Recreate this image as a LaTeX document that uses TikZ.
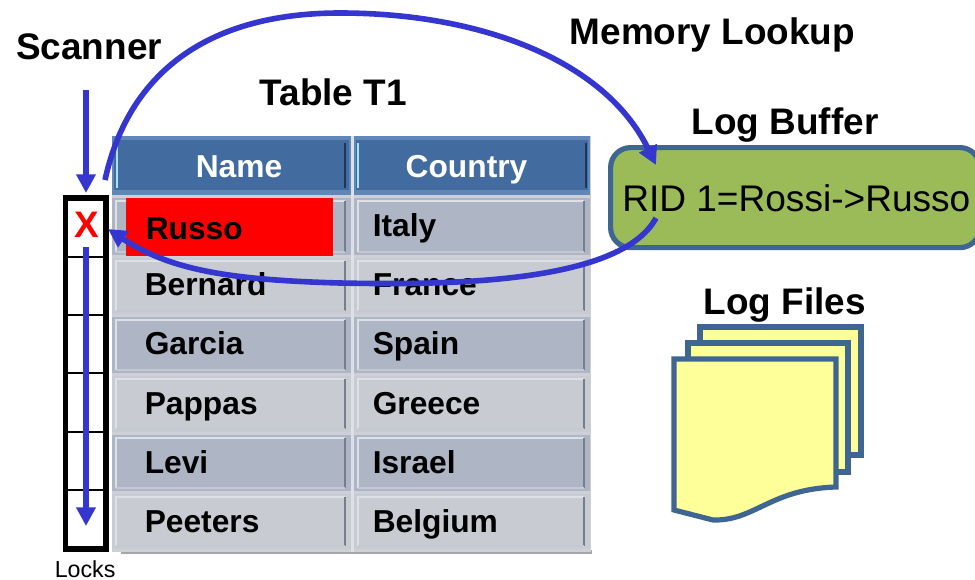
\documentclass[tikz,border=0pt]{standalone}
\usepackage{fontspec}
\setmainfont{Liberation Sans}
\usetikzlibrary{arrows.meta}
\definecolor{arrowblue}{HTML}{3535CF}
\definecolor{frameblue}{HTML}{3F6592}
\definecolor{headblue}{HTML}{426C9F}
\definecolor{headedge}{HTML}{5F88B8}
\definecolor{celldark}{HTML}{AEB5C4}
\definecolor{celllight}{HTML}{C8CBD1}
\definecolor{gridlight}{HTML}{CDD0D8}
\definecolor{bevellight}{HTML}{DDE0E7}
\definecolor{beveldark}{HTML}{767D8B}
\definecolor{bufgreen}{HTML}{9BBB59}
\definecolor{pageyellow}{HTML}{FFFF99}
\newcommand{\tcell}[5]{% x0,y0,x1,y1,fill
  \fill[#5] (#1,#2) rectangle (#3,#4);
  \draw[line width=1.5pt,bevellight] (#1+4,#4-3) -- (#1+4,#2+3) -- (#3-6,#2+3);
  \draw[line width=1.4pt,beveldark] (#3-6,#2+3) -- (#3-6,#4-3);
  \draw[line width=1pt,gridlight!70!celldark] (#1+4,#4-3) -- (#3-6,#4-3);
}
\tikzset{
  x=0.75pt,y=-0.75pt,
  bigbold/.style={font=\fontsize{27.7}{30}\selectfont\bfseries,anchor=base west,inner sep=0pt,text=black},
  cellbold/.style={font=\fontsize{23.8}{27}\selectfont\bfseries,anchor=base west,inner sep=0pt,text=black},
  headbold/.style={font=\fontsize{23.8}{27}\selectfont\bfseries,anchor=base,inner sep=0pt,text=white},
  flow/.style={draw=arrowblue,line width=4.2pt,-{Triangle[width=14pt,length=14pt]}},
  page/.style={draw=frameblue,line width=3.9pt,fill=pageyellow,miter limit=4},
  lockline/.style={draw=black,line width=1.6pt},
  lockframe/.style={draw=black,line width=4pt},
}
\begin{document}
\begin{tikzpicture}
\useasboundingbox (0,0) rectangle (975,579);
\clip (0,0) rectangle (975,579);
% table
\fill[black!35] (121,550) rectangle (592,553.5);
\fill[gridlight] (112,136) rectangle (591,552);
\fill[headedge] (112,136) rectangle (350.5,195);
\fill[headedge] (354,136) rectangle (590,195);
\fill[headblue] (114,140) rectangle (349,190);
\fill[headblue] (356,140) rectangle (588,190);
\draw[line width=1pt,cyan!35!white] (117,143) -- (117,188);
\draw[line width=1pt,cyan!35!white] (358,143) -- (358,188);
\draw[line width=1.4pt,headblue!50!black] (345,143) -- (345,188);
\draw[line width=1.4pt,headblue!50!black] (586,143) -- (586,188);
\fill[bevellight] (351,136) rectangle (354,552);
\tcell{112}{198}{351}{255}{celldark}
\tcell{354}{198}{590}{255}{celldark}
\tcell{112}{258}{351}{314}{celllight}
\tcell{354}{258}{590}{314}{celllight}
\tcell{112}{317}{351}{373}{celldark}
\tcell{354}{317}{590}{373}{celldark}
\tcell{112}{376}{351}{432}{celllight}
\tcell{354}{376}{590}{432}{celllight}
\tcell{112}{435}{351}{491}{celldark}
\tcell{354}{435}{590}{491}{celldark}
\tcell{112}{494}{351}{549}{celllight}
\tcell{354}{494}{590}{549}{celllight}
\fill[red] (126,198) rectangle (333,256);
\node[headbold] (hname) at (239,177) {Name};
\node[headbold] (hcountry) at (466.5,177) {Country};
\node[cellbold] (c1) at (145.5,239) {Russo};
\node[cellbold] (d1) at (372.5,236) {Italy};
\node[cellbold] (c2) at (144.5,295) {Bernard};
\node[cellbold] (d2) at (372.5,295) {France};
\node[cellbold] (c3) at (144.5,354) {Garcia};
\node[cellbold] (d3) at (372.5,354) {Spain};
\node[cellbold] (c4) at (144.5,414) {Pappas};
\node[cellbold] (d4) at (372.5,414) {Greece};
\node[cellbold] (c5) at (144.5,473) {Levi};
\node[cellbold] (d5) at (372.5,473) {Israel};
\node[cellbold] (c6) at (144.5,532) {Peeters};
\node[cellbold] (d6) at (372.5,532) {Belgium};
% titles
\node[bigbold] (scanner) at (16,59) {Scanner};
\node[bigbold] (memory) at (569.5,44) {Memory Lookup};
\node[bigbold] (tablet) at (259.5,105) {Table T1};
\node[bigbold] (logbuffer) at (691.5,134) {Log Buffer};
\node[bigbold] (logfiles) at (703.5,314.5) {Log Files};
% locks
\fill[white] (65.5,198) rectangle (106,549);
\foreach \yy in {257,315,373,432,490} \draw[lockline] (65.5,\yy) -- (106,\yy);
\draw[lockframe] (65.5,198) rectangle (106,549);
\node[font=\fontsize{27.7}{30}\selectfont\bfseries,text=red,inner sep=0pt,anchor=base] (lockx) at (86.5,237) {X};
\node[font=\fontsize{17.4}{20}\selectfont,anchor=base west,inner sep=0pt] (locks) at (54.5,577) {Locks};
% log buffer
\node[draw=frameblue,line width=3.9pt,fill=bufgreen,rounded corners=15pt,minimum width=277pt,minimum height=75pt,anchor=north west,inner sep=0pt] (buffer) at (608,145) {};
\node[font=\fontsize{27.8}{30}\selectfont,anchor=base west,inner sep=0pt] (ridtext) at (622,211) {RID 1=Rossi->Russo};
% log files
\draw[page] (700,327) rectangle (861,455);
\draw[page] (688,343) rectangle (848,472);
\draw[page] (674,359) -- (836,359) -- (836,487) .. controls (770,489) and (755,521) .. (713,520) -- (674,510) -- cycle;
% connectors
\coordinate (scanstart) at (86,90);
\coordinate (scanend) at (86,193);
\coordinate (lockstart) at (86,247);
\coordinate (lockend) at (86,526);
\coordinate (curveA) at (105,180);
\coordinate (curveB) at (656,165);
\coordinate (curveC) at (656,218);
\coordinate (curveD) at (108,229);
\draw[flow] (scanstart) -- (scanend);
\draw[flow] (lockstart) -- (lockend);
\draw[flow] (curveA) .. controls (128,75) and (205,13) .. (340,13) .. controls (480,13) and (605,60) .. (curveB);
\draw[flow] (curveC) .. controls (620,285) and (440,285) .. (340,283) .. controls (230,280) and (170,270) .. (curveD);
\end{tikzpicture}
\end{document}
